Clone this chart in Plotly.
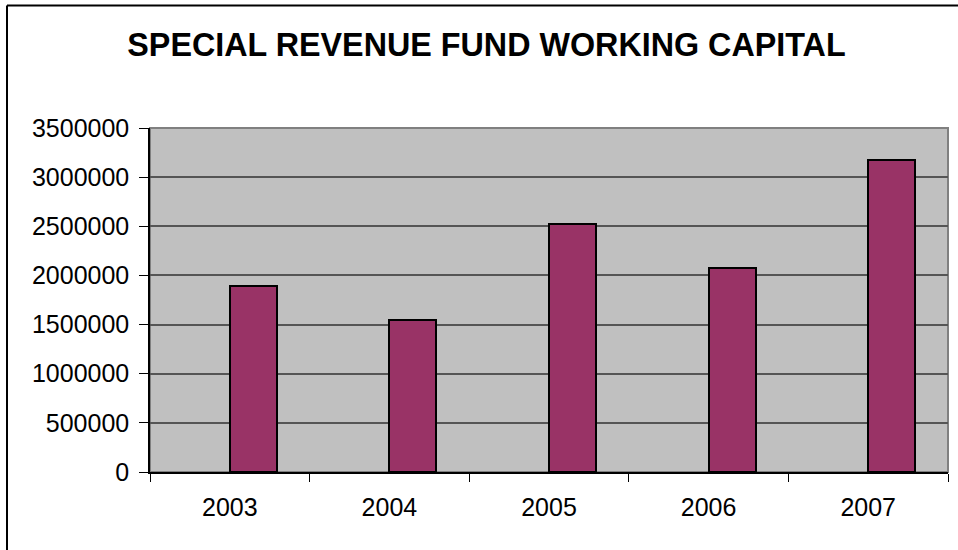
import plotly.graph_objects as go

# Fund data
years = ["2003", "2004", "2005", "2006", "2007"]
working_capital = [1890000, 1545000, 2525000, 2075000, 3175000]
y_ticks = [0, 500000, 1000000, 1500000, 2000000, 2500000, 3000000, 3500000]

W, H = 958, 550
ML, MR, MT, MB = 150, 10, 128, 78
PW, PH = W - ML - MR, H - MT - MB

def px_x(p):
    return (p - ML) / PW

def px_y(p):
    return (H - MB - p) / PH

fig = go.Figure()
fig.add_trace(go.Bar(
    x=years,
    y=working_capital,
    width=0.294,
    offset=0,
    marker=dict(color="#993366", line=dict(color="#000000", width=2)),
))

font = "Liberation Sans, Arial, sans-serif"

fig.update_layout(
    width=W, height=H,
    margin=dict(l=ML, r=MR, t=MT, b=MB),
    paper_bgcolor="#FFFFFF",
    plot_bgcolor="#C0C0C0",
    showlegend=False,
    title=dict(
        text="<b>SPECIAL REVENUE FUND WORKING CAPITAL</b>",
        font=dict(family=font, size=32.3, color="#000000"),
        x=486.5 / W, xanchor="center",
        y=1 - 44.5 / H, yanchor="middle",
    ),
    xaxis=dict(
        type="category",
        range=[-0.5, 4.5],
        showgrid=False,
        showline=True, linecolor="#000000", linewidth=1.5,
        ticks="outside", tickson="boundaries", ticklen=8, tickcolor="#000000",
        ticklabelstandoff=12,
        tickfont=dict(family=font, size=25, color="#000000"),
    ),
    yaxis=dict(
        range=[0, 3500000],
        tickvals=y_ticks,
        ticktext=[str(v) for v in y_ticks],
        showgrid=True, gridcolor="#555555", gridwidth=1.5,
        showline=True, linecolor="#000000", linewidth=1.5,
        ticks="outside", ticklen=9, tickcolor="#000000",
        ticklabelstandoff=5,
        tickfont=dict(family=font, size=25, color="#000000"),
        zeroline=False,
    ),
    bargap=0,
    shapes=[
        # plot area border (top and right in gray)
        dict(type="rect", xref="paper", yref="paper", x0=0, y0=0, x1=1, y1=1,
             line=dict(color="#808080", width=2), fillcolor="rgba(0,0,0,0)", layer="below"),
        # outer chart frame (left and top edges)
        dict(type="line", xref="paper", yref="paper",
             x0=px_x(7), y0=px_y(5.5), x1=px_x(7), y1=px_y(560),
             line=dict(color="#000000", width=2)),
        dict(type="line", xref="paper", yref="paper",
             x0=px_x(7), y0=px_y(5.5), x1=px_x(970), y1=px_y(5.5),
             line=dict(color="#000000", width=2)),
    ],
)

fig.write_html("out.html")
